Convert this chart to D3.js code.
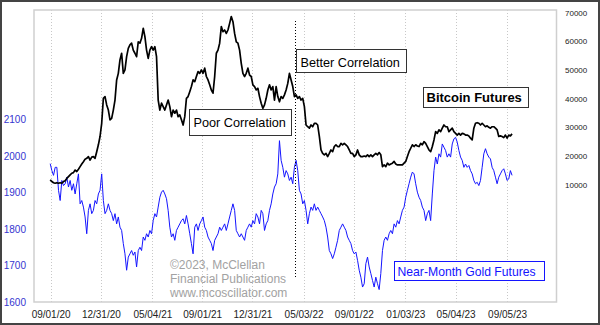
<!DOCTYPE html>
<html><head><meta charset="utf-8">
<script src="https://cdn.jsdelivr.net/npm/d3@7"></script>
<style>body{margin:0;background:#fff}svg{display:block}text{font-family:"Liberation Sans",Arial,sans-serif}</style>
</head><body><svg id="c" width="600" height="325"></svg>
<script>
// ---- data ----
const startDate = "2020-08-31";   // first observation
const stepDays = 4;               // sampling interval of the series below
const tickLabels = ["09/01/20","12/31/20","05/04/21","09/01/21","12/31/21","05/03/22","09/01/22","01/03/23","05/04/23","09/05/23"];
const goldTicks = [1600,1700,1800,1900,2000,2100];
const btcTicks = [10000,20000,30000,40000,50000,60000,70000];
const dividerDate = "2022-04-13";

const btcValues = [
11700,11100,10700,10500,10700,10500,10700,10500,11100,11400,
12200,12800,13400,14000,14200,15100,14600,15400,16300,17200,
18000,18900,19200,19800,18600,19600,19800,19200,21500,23900,
26800,31400,40100,40700,37800,36000,32600,33100,36000,39500,
46500,48800,53500,55800,48800,50000,54600,57500,58700,59300,
56900,55800,54600,59800,59300,61000,64500,61600,56900,54000,
56900,58100,56900,58100,54600,39500,36000,38400,37200,36000,
37800,39500,37200,33700,36000,34900,36000,33700,34300,32600,
30800,33700,40100,40700,42400,44200,46500,45900,47700,49400,
48800,50000,48800,50600,47700,46500,44800,43000,41900,47700,
55800,56900,59300,65100,63300,63900,62700,63900,66200,68600,
66800,62700,59800,59300,56900,52300,48800,47700,48800,50600,
48200,47700,44800,44200,43000,43600,40700,38400,36600,37800,
40100,43000,44800,43000,44200,39500,44200,40700,38900,40700,
40100,41300,43000,45300,48800,
46500,44200,40700,41300,40100,40700,39500,40100,37200,30800,
30200,29700,30800,30200,31400,31400,30800,26800,22100,20900,
20400,20900,19800,20900,22100,21500,23300,23900,23300,23300,
24400,23900,24400,23900,23300,22100,20900,20900,19800,20400,
22100,20400,19800,19800,20000,19800,20400,19800,20400,19800,
20400,20900,20400,21200,20400,16300,16900,16300,17500,16900,
17200,17500,18100,17200,16900,16900,16900,16900,17500,18100,
19800,21500,22700,23900,23300,23900,23500,23300,24400,23900,
25000,24400,23300,22100,21500,23300,25600,28500,27900,29100,
28500,29700,30800,30200,30200,28500,29100,29700,28500,27900,
27300,27900,27300,27900,27700,27300,27300,27000,26200,25600,
29700,31400,31600,31400,30800,31400,30800,30200,30500,30000,
29700,30200,30200,29700,29100,26800,27000,26800,26400,27300,
26200,27300,27000,27700
];

const goldValues = [
1979,1960,1947,1969,1969,1906,1878,1933,1919,1924,
1942,1915,1933,1906,1924,1896,1924,1951,1869,1878,
1860,1833,1787,1851,1869,1842,1851,1878,1869,1896,
1906,1951,1878,1842,1851,1869,1851,1842,1823,1842,
1814,1833,1805,1796,1760,1732,1687,1723,1732,1741,
1728,1737,1696,1741,1750,1741,1778,1769,1787,1778,
1796,1787,1823,1842,1833,1860,1887,1901,1906,1896,
1883,1851,1805,1778,1787,1769,1796,1805,1814,1823,
1828,1814,1837,1814,1787,1760,1732,1805,1814,1796,
1814,1823,1833,1805,1796,1778,1769,1760,1741,1769,
1778,1787,1805,1796,1805,1814,1796,1814,1833,1851,
1869,1851,1796,1787,1778,1787,1778,1769,1796,1805,
1814,1805,1823,1814,1842,1833,1814,1851,1842,1796,
1814,1823,1851,1869,1896,1915,1924,1951,2042,1988,
1969,1942,1960,1951,1933,
1942,1924,1969,1988,1960,1906,1896,1869,1878,1851,
1814,1842,1860,1851,1869,1851,1860,1851,1842,1833,
1823,1805,1778,1741,1732,1719,1732,1750,1769,1796,
1805,1814,1805,1796,1778,1769,1760,1741,1732,1737,
1714,1687,1668,1641,1650,1705,1723,1696,1678,1659,
1641,1668,1650,1634,1678,1741,1769,1778,1769,1787,
1796,1787,1814,1805,1823,1814,1833,1851,1860,1887,
1906,1924,1942,1956,1951,1924,1901,1887,1878,1860,
1851,1823,1842,1851,1823,1896,1960,1997,1978,2006,
1997,2033,2024,2015,1997,2006,1997,2033,2047,2051,
2038,2015,1997,1988,1969,1978,1969,1974,1960,1951,
1933,1924,1928,1919,1933,1969,2006,2020,2006,1997,
1992,1969,1960,1942,1924,1942,1951,1960,1965,1951,
1933,1937,1960,1947
];

// ---- build ----
const svg = d3.select("#c");
const L = 34, R = 556.5, T = 10, B = 302;
const parseISO = d3.timeParse("%Y-%m-%d");
const parseTick = d3.timeParse("%m/%d/%y");
const t0 = parseISO(startDate);
const dates = btcValues.map((_, i) => d3.timeDay.offset(t0, i * stepDays));
const tickDates = tickLabels.map(parseTick);

const x = d3.scaleTime().domain([parseISO("2020-07-23"), parseISO("2024-01-02")]).range([L, R]);
const yGold = d3.scaleLinear().domain([1600, 2400]).range([B, T]);
const yBtc = d3.scaleLinear().domain([-30870, 70870]).range([B, T]);

svg.append("rect").attr("width",600).attr("height",325).attr("fill","#fff");
svg.append("rect").attr("x",1).attr("y",1).attr("width",598).attr("height",323)
  .attr("fill","none").attr("stroke","#444").attr("stroke-width",2);

// gridlines
svg.append("g").selectAll("line").data(tickDates).join("line")
  .attr("x1", d => Math.round(x(d)) + 0.5).attr("x2", d => Math.round(x(d)) + 0.5)
  .attr("y1", T).attr("y2", B)
  .attr("stroke", "#c8c8c8").attr("stroke-dasharray", "1,2");

// frame
svg.append("rect").attr("x", L).attr("y", T).attr("width", R - L).attr("height", B - T)
  .attr("fill", "none").attr("stroke", "#cfcfcf").attr("stroke-width", 1.5);

// watermark
const wm = ["\u00a92023, McClellan", "Financial Publications", "www.mcoscillator.com"];
svg.append("g").selectAll("text").data(wm).join("text")
  .attr("x", 170).attr("y", (d, i) => 269 + i * 14)
  .attr("font-size", 12).attr("fill", "#a2a2a2").text(d => d);

// lines
const goldLine = d3.line().x((d, i) => x(dates[i])).y(d => yGold(d));
const btcLine = d3.line().x((d, i) => x(dates[i])).y(d => yBtc(d));
svg.append("path").datum(goldValues).attr("d", goldLine)
  .attr("fill", "none").attr("stroke", "#1414ff").attr("stroke-width", 1).attr("stroke-linejoin","round");
svg.append("path").datum(btcValues).attr("d", btcLine)
  .attr("fill", "none").attr("stroke", "#000").attr("stroke-width", 1.7).attr("stroke-linejoin","round");

// divider
const xd = Math.round(x(parseISO(dividerDate))) + 0.5;
svg.append("line").attr("x1", xd).attr("x2", xd).attr("y1", 21).attr("y2", 279)
  .attr("stroke", "#000").attr("stroke-dasharray", "1,2");

// annotation boxes
function box(bx, by, bw, bh, txt, tx, ty, size, color, bold) {
  const g = svg.append("g");
  g.append("rect").attr("x", bx + 0.5).attr("y", by + 0.5).attr("width", bw).attr("height", bh)
    .attr("fill", "#fff").attr("stroke", color === "#000" ? "#333" : color);
  g.append("text").attr("x", tx).attr("y", ty).attr("font-size", size)
    .attr("font-weight", bold ? "bold" : "normal").attr("fill", color).text(txt);
}
box(189, 109, 102, 26, "Poor Correlation", 193.5, 127, 12.7, "#000", false);
box(296, 49, 110, 23, "Better Correlation", 300.5, 66.5, 12.7, "#000", false);
box(423, 87, 105, 20, "Bitcoin Futures", 426.5, 102, 13, "#000", true);
box(394, 261, 150, 19, "Near-Month Gold Futures", 397.5, 275.5, 12.2, "#1414ff", false);

// axes
const ax = svg.append("g").attr("transform", `translate(0,${B})`)
  .call(d3.axisBottom(x).tickValues(tickDates).tickFormat(d3.timeFormat("%m/%d/%y")).tickSize(0).tickPadding(9));
ax.select(".domain").remove();
ax.selectAll("text").attr("font-size", 10).attr("fill", "#222").attr("font-family", '"Liberation Sans",Arial,sans-serif');

const ay = svg.append("g").attr("transform", `translate(${L},0)`)
  .call(d3.axisLeft(yGold).tickValues(goldTicks).tickFormat(d3.format("d")).tickSize(0).tickPadding(8));
ay.select(".domain").remove();
ay.selectAll("text").attr("font-size", 10).attr("fill", "#3535d0").attr("font-family", '"Liberation Sans",Arial,sans-serif');

const ar = svg.append("g").attr("transform", `translate(${R},0)`)
  .call(d3.axisRight(yBtc).tickValues(btcTicks).tickFormat(d3.format("d")).tickSize(0).tickPadding(8.5));
ar.select(".domain").remove();
ar.selectAll("text").attr("font-size", 8).attr("fill", "#222").attr("font-family", '"Liberation Sans",Arial,sans-serif');
</script></body></html>
